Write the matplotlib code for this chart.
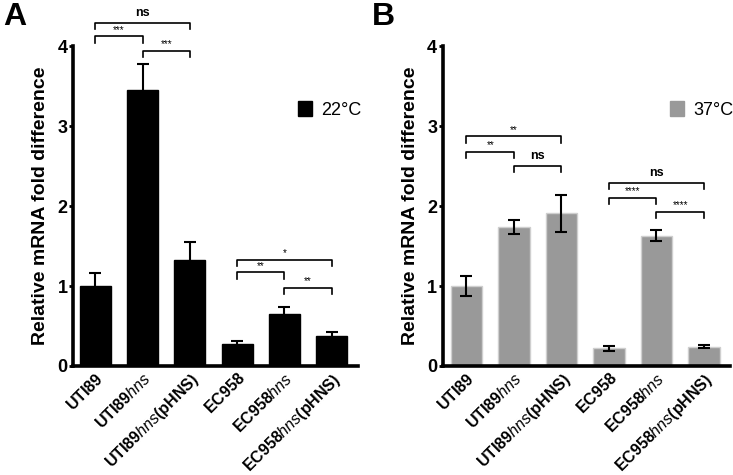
import matplotlib
matplotlib.use("Agg")
import matplotlib.pyplot as plt
import numpy as np
from matplotlib.patches import Patch

plt.rcParams['font.family'] = ['Liberation Sans', 'DejaVu Sans']
plt.rcParams['mathtext.fontset'] = 'custom'
plt.rcParams['mathtext.rm'] = 'Liberation Sans'
plt.rcParams['mathtext.bf'] = 'Liberation Sans:bold'
plt.rcParams['mathtext.it'] = 'Liberation Sans:italic'

strains = [r"$\bf{UTI89}$", r"$\bf{UTI89}\it{hns}$", r"$\bf{UTI89}\it{hns}\bf{(pHNS)}$",
           r"$\bf{EC958}$", r"$\bf{EC958}\it{hns}$", r"$\bf{EC958}\it{hns}\bf{(pHNS)}$"]

# panel A, 22 C
vals_22 = [1.0, 3.45, 1.33, 0.28, 0.65, 0.375]
err_22 = [0.16, 0.32, 0.22, 0.03, 0.09, 0.055]
# panel B, 37 C
vals_37 = [1.0, 1.74, 1.91, 0.22, 1.63, 0.24]
err_37 = [0.12, 0.09, 0.23, 0.03, 0.065, 0.02]

# significance brackets: (left bar, right bar, height, label)
sig_22 = [(0, 2, 4.29, "ns"), (0, 1, 4.12, "***"), (1, 2, 3.94, "***"),
          (3, 5, 1.33, "*"), (3, 4, 1.17, "**"), (4, 5, 0.98, "**")]
sig_37 = [(0, 2, 2.87, "**"), (0, 1, 2.68, "**"), (1, 2, 2.50, "ns"),
          (3, 5, 2.29, "ns"), (3, 4, 2.10, "****"), (4, 5, 1.93, "****")]

fig = plt.figure(figsize=(7.33, 4.75), dpi=100)
axA = fig.add_axes([0.0996, 0.2295, 0.3885, 0.6735])
axB = fig.add_axes([0.604, 0.2295, 0.392, 0.6735])


def draw_panel(ax, vals, errs, sig, color, edge, label, err_under, xlim):
    x = np.arange(len(vals))
    ax.bar(x, vals, width=0.66, color=color, edgecolor=edge, linewidth=1, zorder=2)
    # black bars hide the lower half of the error bar
    ax.errorbar(x, vals, yerr=errs, fmt='none', ecolor='black', elinewidth=1.5,
                capsize=4, capthick=1.5, zorder=1 if err_under else 3)
    ax.set_xlim(*xlim)
    ax.set_ylim(0, 4)
    ax.set_yticks([0, 1, 2, 3, 4])
    ax.set_yticklabels(['0', '1', '2', '3', '4'], fontweight='bold', fontsize=13)
    ax.set_xticks(x)
    ax.set_xticklabels(strains, rotation=45, ha='right', rotation_mode='anchor', fontsize=11.5)
    ax.tick_params(axis='y', length=3, width=2, pad=1)
    ax.tick_params(axis='x', length=0, pad=3)
    for s in ['top', 'right']:
        ax.spines[s].set_visible(False)
    for s in ['left', 'bottom']:
        ax.spines[s].set_linewidth(2.6)
    ax.set_ylabel("Relative mRNA fold difference", fontsize=14, fontweight='bold', labelpad=6)
    for i, j, h, txt in sig:
        ax.plot([i, i, j, j], [h - 0.08, h, h, h - 0.08], color='black', lw=1.2,
                clip_on=False, zorder=4)
        if txt == "ns":
            ax.text((i + j) / 2, h + 0.05, txt, ha='center', va='bottom', fontsize=9,
                    fontweight='bold')
        else:
            ax.text((i + j) / 2, h + 0.02, txt, ha='center', va='bottom', fontsize=7)
    ax.legend(handles=[Patch(facecolor=color, edgecolor=color)], labels=[label],
              loc='center left', bbox_to_anchor=(0.79, 0.80), frameon=False,
              fontsize=13, handlelength=0.8, handleheight=0.9, handletextpad=0.5,
              borderpad=0, borderaxespad=0)


draw_panel(axA, vals_22, err_22, sig_22, 'black', 'black', "22°C", True, (-0.47, 5.55))
draw_panel(axB, vals_37, err_37, sig_37, '#999999', '#cfcfcf', "37°C", False, (-0.5, 5.55))

fig.text(0.004, 0.995, "A", fontsize=23, fontweight='bold', va='top', ha='left')
fig.text(0.507, 0.995, "B", fontsize=23, fontweight='bold', va='top', ha='left')

fig.savefig("out.png", dpi=100)
